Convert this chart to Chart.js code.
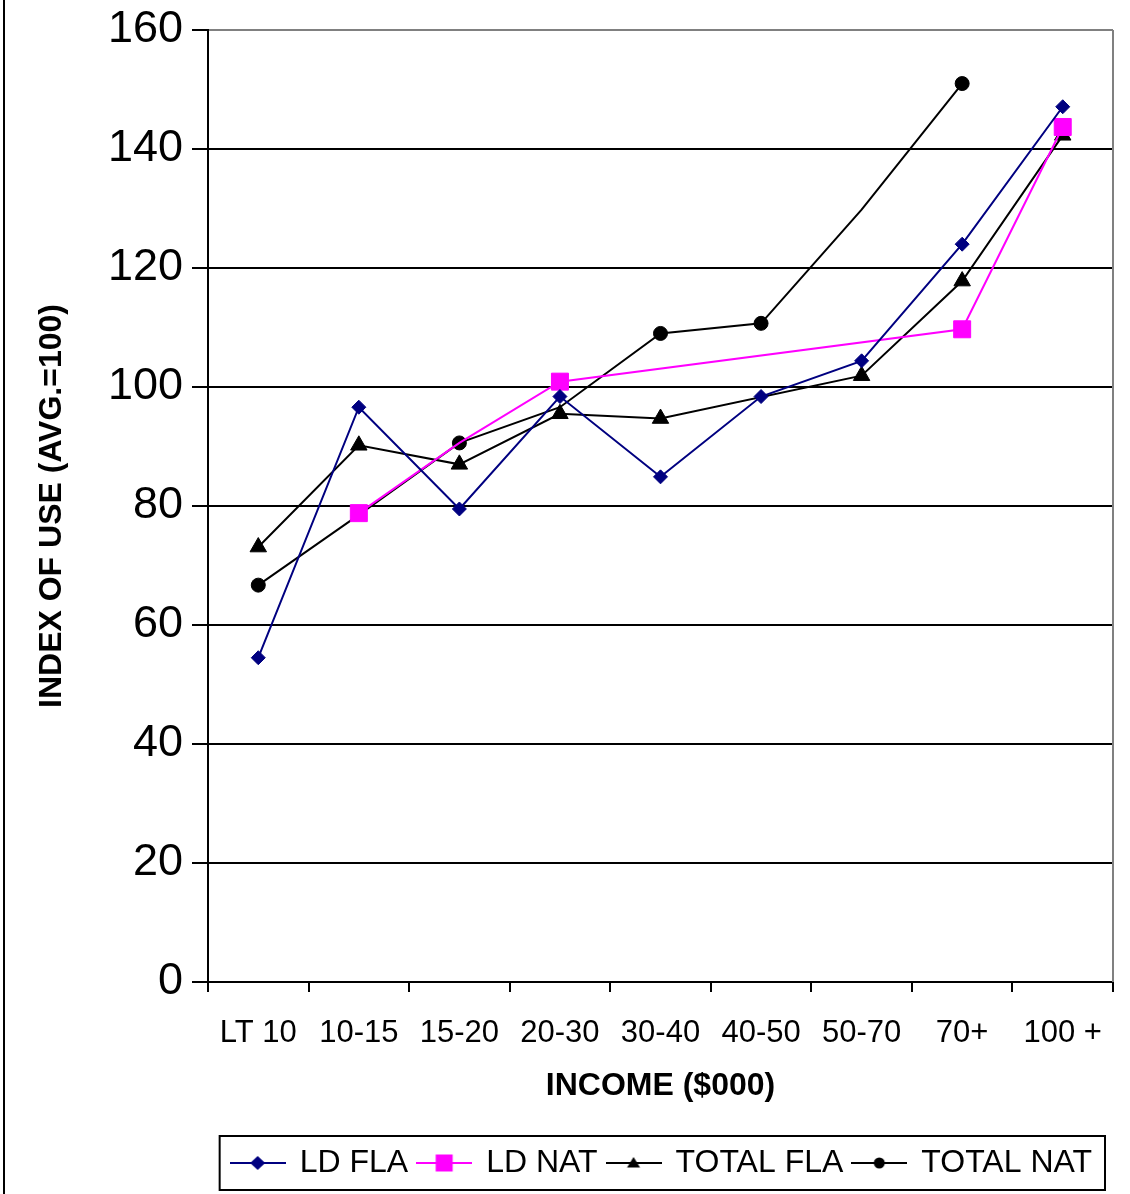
<!DOCTYPE html>
<html>
<head>
<meta charset="utf-8">
<script src="https://cdn.jsdelivr.net/npm/chart.js@4/dist/chart.umd.min.js"></script>
<style>
html,body{margin:0;padding:0;background:#fff}
#wrap{width:1130px;height:1194px;position:relative}
</style>
</head>
<body>
<div id="wrap"><canvas id="c" width="1130" height="1194"></canvas></div>
<script>
// ---- data ----
const categories = ['LT 10', '10-15', '15-20', '20-30', '30-40', '40-50', '50-70', '70+', '100 +'];
const ldFla    = [54.5, 96.6, 79.5, 98.4, 84.9, 98.4, 104.4, 124.0, 147.1];
const ldNat    = [null, 78.8, 90.6, 100.9, null, null, null, 109.7, 143.7];
const totalFla = [73.1, 90.2, 87.0, 95.5, 94.7, null, 101.9, 117.8, 142.3];
const totalNat = [66.7, 78.5, 90.6, 96.6, 109.0, 110.7, 129.8, 151.0, null];
// which points carry a visible marker in the original
const ldNatMarked    = [false, true, false, true, false, false, false, true, true];
const totalNatMarked = [true, false, true, false, true, true, false, true, false];
const seriesNames = ['LD FLA', 'LD NAT', 'TOTAL FLA', 'TOTAL NAT'];
const yTickValues = [0, 20, 40, 60, 80, 100, 120, 140, 160];
const yTitle = 'INDEX OF USE (AVG.=100)';
const xTitle = 'INCOME ($000)';

const NAVY = '#000080', MAGENTA = '#FF00FF', BLACK = '#000000', GREY = '#808080';
const FONT = "'Liberation Sans', Arial, Helvetica, sans-serif";
Chart.defaults.font.family = FONT;
Chart.defaults.color = '#000';

function legendIcon(kind, color) {
  const c = document.createElement('canvas');
  c.width = 56; c.height = 22;
  const g = c.getContext('2d');
  g.strokeStyle = color; g.lineWidth = 2;
  g.beginPath(); g.moveTo(0, 11); g.lineTo(56, 11); g.stroke();
  g.fillStyle = color;
  g.beginPath();
  if (kind === 'diamond') { g.moveTo(28, 4); g.lineTo(35.5, 11); g.lineTo(28, 18); g.lineTo(20.5, 11); }
  else if (kind === 'square') { g.rect(19.5, 2.5, 17, 17); }
  else if (kind === 'triangle') { g.moveTo(28, 5); g.lineTo(34.5, 15.5); g.lineTo(21.5, 15.5); }
  else { g.arc(28, 11, 5.5, 0, Math.PI * 2); }
  g.closePath(); g.fill();
  return c;
}
const legendIcons = [
  legendIcon('diamond', NAVY),
  legendIcon('square', MAGENTA),
  legendIcon('triangle', BLACK),
  legendIcon('circle', BLACK)
];

const framePlugin = {
  id: 'frame',
  afterLayout(chart) {
    // nudge the legend row left to sit where the original places it
    if (chart.legend) { chart.legend.left -= 11; chart.legend.right -= 11; }
  },
  afterDraw(chart) {
    const ctx = chart.ctx, a = chart.chartArea;
    ctx.save();
    // outer frame (left edge visible)
    ctx.strokeStyle = BLACK; ctx.lineWidth = 2;
    ctx.beginPath(); ctx.moveTo(4, 0); ctx.lineTo(4, chart.height); ctx.stroke();
    // right plot border in grey
    ctx.strokeStyle = GREY; ctx.lineWidth = 2;
    ctx.beginPath(); ctx.moveTo(a.right, a.top); ctx.lineTo(a.right, a.bottom); ctx.stroke();
    // legend box
    const hb = chart.legend && chart.legend.legendHitBoxes;
    if (hb && hb.length) {
      const first = hb[0], last = hb[hb.length - 1];
      const l = first.left - 12, r = last.left + last.width + 13;
      const t = first.top - 11, b = first.top + first.height + 11;
      ctx.strokeStyle = BLACK; ctx.lineWidth = 2;
      ctx.strokeRect(l, t, r - l, b - t);
    }
    ctx.restore();
  }
};

new Chart(document.getElementById('c'), {
  type: 'line',
  data: {
    labels: categories,
    datasets: [
      { label: seriesNames[0], data: ldFla, borderColor: NAVY, backgroundColor: NAVY,
        borderWidth: 2, pointStyle: 'rectRot', pointRadius: 7, pointBorderWidth: 1,
        pointBackgroundColor: NAVY, pointBorderColor: NAVY, spanGaps: true, tension: 0 },
      { label: seriesNames[1], data: ldNat, borderColor: MAGENTA, backgroundColor: MAGENTA,
        borderWidth: 2, pointStyle: 'rect', pointRadius: ldNatMarked.map(m => m ? 12 : 0), pointBorderWidth: 1,
        pointBackgroundColor: MAGENTA, pointBorderColor: MAGENTA, spanGaps: true, tension: 0 },
      { label: seriesNames[2], data: totalFla, borderColor: BLACK, backgroundColor: BLACK,
        borderWidth: 2, pointStyle: 'triangle', pointRadius: 9.5, pointBorderWidth: 1,
        pointBackgroundColor: BLACK, pointBorderColor: BLACK, spanGaps: true, tension: 0 },
      { label: seriesNames[3], data: totalNat, borderColor: BLACK, backgroundColor: BLACK,
        borderWidth: 2, pointStyle: 'circle', pointRadius: totalNatMarked.map(m => m ? 7 : 0), pointBorderWidth: 1,
        pointBackgroundColor: BLACK, pointBorderColor: BLACK, spanGaps: true, tension: 0 }
    ]
  },
  options: {
    responsive: false,
    animation: false,
    events: [],
    layout: { padding: { left: 8, right: 17, top: 30, bottom: 5 } },
    scales: {
      x: {
        type: 'category',
        offset: true,
        afterFit: s => { s.height = 155; s.paddingLeft = 0; s.paddingRight = 0; },
        border: { display: true, color: BLACK, width: 2 },
        grid: { display: true, offset: true, drawOnChartArea: false, drawTicks: true,
                tickLength: 10, color: BLACK, lineWidth: 2 },
        ticks: { font: { size: 31 }, color: BLACK, padding: 23, maxRotation: 0, minRotation: 0, autoSkip: false },
        title: { display: true, text: xTitle, color: BLACK,
                 font: { size: 32, weight: 'bold' }, padding: { top: 0, bottom: 32 } }
      },
      y: {
        min: 0, max: 160,
        afterFit: s => { s.width = 200; s.paddingTop = 0; s.paddingBottom = 0; },
        afterBuildTicks: s => { s.ticks = yTickValues.map(v => ({ value: v })); },
        border: { display: true, color: BLACK, width: 2 },
        grid: { display: true, drawOnChartArea: true, drawTicks: true, tickLength: 16,
                color: c => (c.tick && c.tick.value === 160) ? GREY : BLACK,
                tickColor: BLACK, lineWidth: 2 },
        ticks: { font: { size: 45 }, color: BLACK, padding: 9 },
        title: { display: true, text: yTitle, color: BLACK,
                 font: { size: 32, weight: 'bold' }, padding: { top: 25, bottom: 0 } }
      }
    },
    plugins: {
      tooltip: { enabled: false },
      legend: {
        display: true,
        position: 'bottom',
        align: 'end',
        labels: {
          font: { size: 32 },
          color: BLACK,
          usePointStyle: true,
          pointStyleWidth: 52,
          padding: 10,
          generateLabels: (chart) => {
            const items = Chart.defaults.plugins.legend.labels.generateLabels(chart);
            items.forEach((it, i) => { it.pointStyle = legendIcons[i]; });
            return items;
          }
        }
      }
    }
  },
  plugins: [framePlugin]
});
</script>
</body>
</html>
